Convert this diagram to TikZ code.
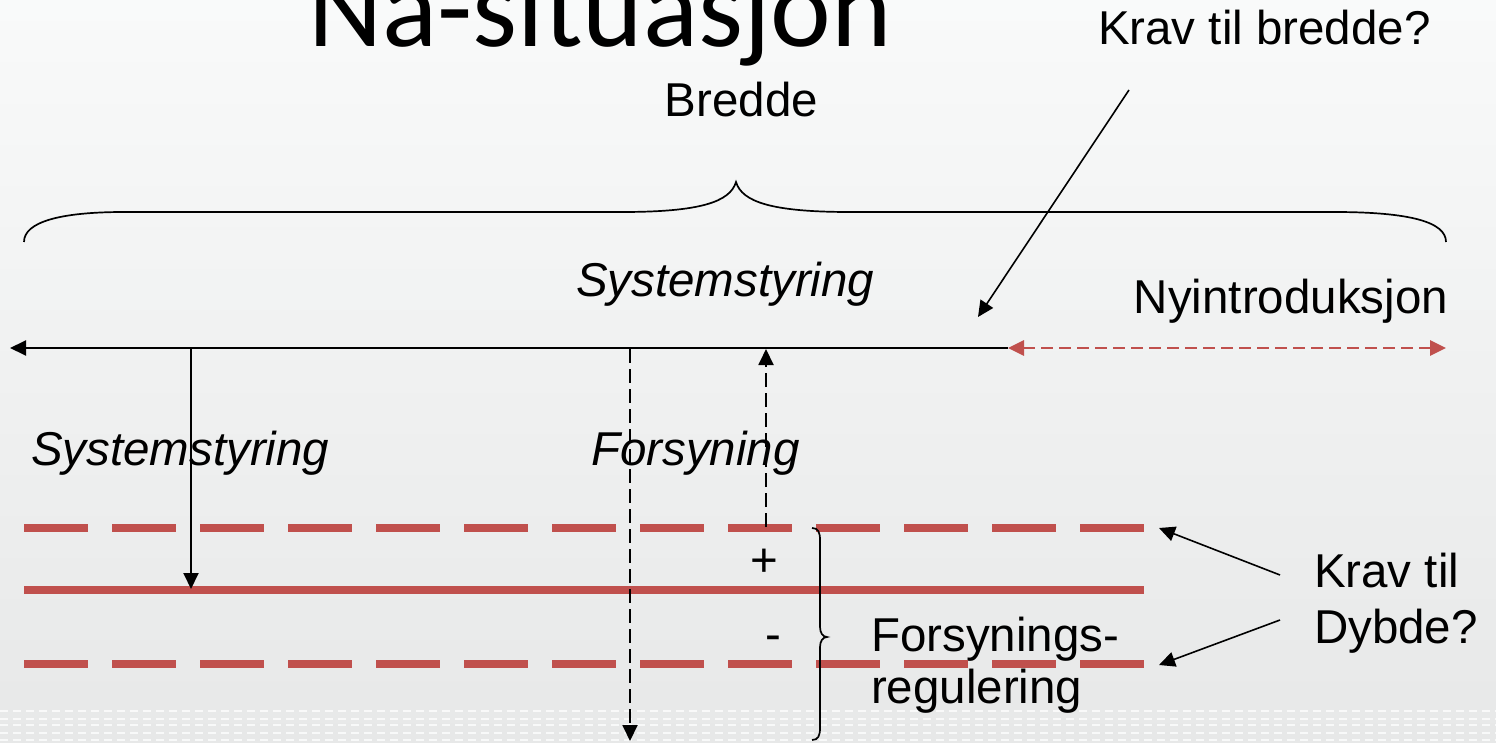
\documentclass[tikz,border=0pt]{standalone}
\usepackage{fontspec}
\setmainfont{Liberation Sans}
\newfontfamily\titlefont{Carlito}
\usetikzlibrary{arrows.meta}
\definecolor{redl}{HTML}{C0504D}
\definecolor{bgtop}{RGB}{249,250,250}
\definecolor{bgbot}{RGB}{231,232,232}
\begin{document}
\begin{tikzpicture}[x=1pt,y=-1pt,
  lbl/.style={inner sep=0pt, outer sep=0pt, font=\fontsize{47.5}{52}\selectfont},
  ilbl/.style={lbl, font=\fontsize{47.5}{52}\selectfont\itshape},
  tip/.style={-{Triangle[length=16pt,width=15pt]}},
  blk/.style={line width=1.9pt, black},
  blkdash/.style={blk, dash pattern=on 14pt off 6pt},
  redthick/.style={redl, line width=8pt},
  reddash/.style={redthick, dash pattern=on 64pt off 24pt},
  bracestyle/.style={line width=1.7pt, black},
  pat/.style={white, opacity=0.75, line width=2.5pt, dash pattern=on 8pt off 5pt}
]
\useasboundingbox (0,0) rectangle (1496,743);
\shade[top color=bgtop, bottom color=bgbot] (0,0) rectangle (1496,743);
\foreach \yy in {711,719,725,733,740} {\draw[pat] (0,\yy) -- (1496,\yy);}

% texts
\node[inner sep=0pt, anchor=base, font=\fontsize{115}{120}\selectfont\titlefont] (title) at (600,47) {Nå-situasjon};
\node[lbl, anchor=base] (bredde) at (741.5,117) {Bredde};
\node[lbl, anchor=base west] (kravb) at (1098,45) {Krav til bredde?};
\node[ilbl, anchor=base west] (sys1) at (576,297) {Systemstyring};
\node[lbl, anchor=base east] (nyi) at (1448,313) {Nyintroduksjon};
\node[ilbl, anchor=base west] (sys2) at (31,465) {Systemstyring};
\node[ilbl, anchor=base west] (fors) at (591,465) {Forsyning};
\node[lbl, anchor=base] (plus) at (764,576) {+};
\node[lbl, anchor=base] (minus) at (773,650) {-};
\node[lbl, anchor=base west] (freg1) at (871,651) {Forsynings-};
\node[lbl, anchor=base west] (freg2) at (871,703) {regulering};
\node[lbl, anchor=base west] (krav1) at (1314,587) {Krav til};
\node[lbl, anchor=base west] (krav2) at (1314,643) {Dybde?};

% top brace
\draw[bracestyle] (24,242) .. controls (24,222) and (60,212) .. (124,212)
  -- (622,212) .. controls (700,212) and (730,202) .. (736,182)
  .. controls (742,202) and (772,212) .. (850,212)
  -- (1334,212) .. controls (1410,212) and (1446,222) .. (1446,242);

% red lines
\coordinate (rt1) at (24,528); \coordinate (rt2) at (1144,528);
\coordinate (rm1) at (24,590); \coordinate (rm2) at (1144,590);
\coordinate (rb1) at (24,664); \coordinate (rb2) at (1144,664);
\draw[reddash] (rt1) -- (rt2);
\draw[redthick] (rm1) -- (rm2);
\draw[reddash] (rb1) -- (rb2);

% main axis
\coordinate (hL) at (10,348);
\coordinate (hR) at (1008,348);
\coordinate (nR) at (1446,348);
\draw[blk, tip] (hR) -- (hL);
\draw[redl, line width=2.8pt, dash pattern=on 12pt off 6pt,
  {Triangle[length=16pt,width=15pt]}-{Triangle[length=16pt,width=15pt]}] (hR) -- (nR);

% verticals
\coordinate (a1t) at (191,348); \coordinate (a1b) at (191,589);
\draw[blk, tip] (a1t) -- (a1b);
\coordinate (a2t) at (630,349); \coordinate (a2b) at (630,741);
\draw[blkdash, tip] (a2t) -- (a2b);
\coordinate (a3b) at (766,527); \coordinate (a3t) at (766,349);
\draw[blkdash, tip] (a3b) -- (a3t);

% bottom brace
\draw[bracestyle] (812,528) .. controls (818,528) and (820,532) .. (820,540)
  -- (820,627) .. controls (820,633) and (823,637) .. (827,637)
  .. controls (823,637) and (820,641) .. (820,647)
  -- (820,728) .. controls (820,736) and (818,740) .. (812,740);

% pointer arrows
\coordinate (kb0) at (1129,90); \coordinate (kb1) at (978,317);
\draw[blk, line width=1.6pt, tip] (kb0) -- (kb1);
\coordinate (k1) at (1280,575); \coordinate (k1e) at (1159,528);
\coordinate (k2) at (1280,620); \coordinate (k2e) at (1159,665);
\draw[blk, line width=1.6pt, tip] (k1) -- (k1e);
\draw[blk, line width=1.6pt, tip] (k2) -- (k2e);
\end{tikzpicture}
\end{document}
